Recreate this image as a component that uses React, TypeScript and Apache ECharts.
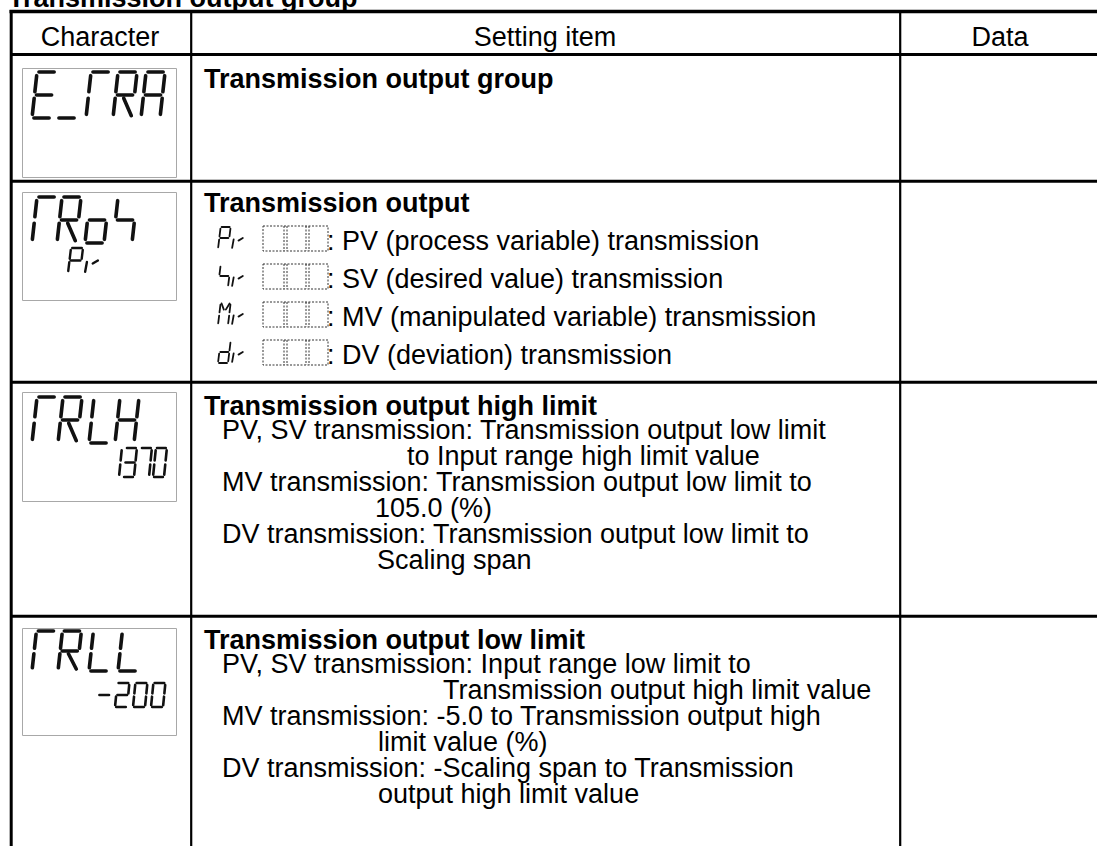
import React, { useEffect, useRef } from "react";
import * as echarts from "echarts";

// ---------- content ----------
const pageTitle = "Transmission output group";
const headers = ["Character", "Setting item", "Data"];
const rowTitles = [
  "Transmission output group",
  "Transmission output",
  "Transmission output high limit",
  "Transmission output low limit",
];
const lcdMain = ["E_TRA", "TRoS", "TRLH", "TRLL"];
const lcdSub = ["", "PV", "1370", "-200"];
const outputCodes = ["PV", "SV", "MV", "dV"];
const outputDescriptions = [
  ": PV (process variable) transmission",
  ": SV (desired value) transmission",
  ": MV (manipulated variable) transmission",
  ": DV (deviation) transmission",
];
const highLimitLines = [
  "PV, SV transmission: Transmission output low limit",
  "to Input range high limit value",
  "MV transmission: Transmission output low limit to",
  "105.0 (%)",
  "DV transmission: Transmission output low limit to",
  "Scaling span",
];
const lowLimitLines = [
  "PV, SV transmission: Input range low limit to",
  "Transmission output high limit value",
  "MV transmission: -5.0 to Transmission output high",
  "limit value (%)",
  "DV transmission: -Scaling span to Transmission",
  "output high limit value",
];

// ---------- layout ----------
const FS = 27;
const FONT = '"Liberation Sans", Arial, Helvetica, sans-serif';
const highLimitX = [222, 407, 222, 375, 222, 377];
const lowLimitX = [222, 443, 222, 378, 222, 378];

type P = [number, number];
const SEG: Record<string, P[]> = {
  a: [[0.1, 0], [0.9, 0]],
  b: [[1, 0.08], [1, 0.43]],
  c: [[1, 0.57], [1, 0.92]],
  d: [[0.1, 1], [0.9, 1]],
  e: [[0, 0.57], [0, 0.92]],
  f: [[0, 0.08], [0, 0.43]],
  g: [[0.1, 0.5], [0.9, 0.5]],
};
const GLYPH: Record<string, P[][]> = {
  E: [SEG.a, SEG.d, SEG.e, SEG.f, SEG.g],
  _: [SEG.d],
  T: [SEG.a, SEG.f, SEG.e],
  R: [SEG.a, SEG.b, SEG.e, SEG.f, SEG.g, [[0.45, 0.57], [0.95, 0.95]]],
  A: [SEG.a, SEG.b, SEG.c, SEG.e, SEG.f, SEG.g],
  o: [SEG.c, SEG.d, SEG.e, SEG.g],
  S: [SEG.f, SEG.g, SEG.c],
  L: [SEG.d, SEG.e, SEG.f],
  H: [SEG.b, SEG.c, SEG.e, SEG.f, SEG.g],
  P: [SEG.a, SEG.b, SEG.e, SEG.f, SEG.g],
  V: [[[0.05, 0.56], [0, 0.95]], [[0.55, 0.62], [0.95, 0.5]]],
  M: [SEG.b, SEG.c, SEG.e, SEG.f, [[0.1, 0.02], [0.4, 0.3]], [[0.9, 0.02], [0.6, 0.3]]],
  d: [SEG.b, SEG.c, SEG.d, SEG.e, SEG.g],
  "1": [SEG.b, SEG.c],
  "3": [SEG.a, SEG.b, SEG.c, SEG.d, SEG.g],
  "7": [SEG.a, SEG.b, SEG.c],
  "0": [SEG.a, SEG.b, SEG.c, SEG.d, SEG.e, SEG.f],
  "2": [SEG.a, SEG.b, SEG.g, SEG.e, SEG.d],
  "-": [SEG.g],
};

function lcd(
  text: string,
  xs: number[] | number,
  y: number,
  w: number,
  h: number,
  pitch: number,
  lw: number,
  slant = 0.11
) {
  const out: any[] = [];
  Array.from(text).forEach((ch, i) => {
    const cx = Array.isArray(xs) ? xs[i] : xs + i * pitch;
    (GLYPH[ch] || []).forEach((stroke) => {
      out.push({
        type: "polyline",
        silent: true,
        shape: {
          points: stroke.map(([u, v]) => [cx + u * w + (1 - v) * slant * h, y + v * h]),
        },
        style: { stroke: "#111", lineWidth: lw, lineCap: "round", lineJoin: "round", fill: "none" },
      });
    });
  });
  return out;
}

function txt(text: string, x: number, baseline: number, bold = false, align = "left") {
  return {
    type: "text",
    silent: true,
    x,
    y: baseline - 0.35 * FS,
    style: {
      text,
      fill: "#000",
      fontSize: FS,
      fontFamily: FONT,
      fontWeight: bold ? "bold" : "normal",
      align,
      verticalAlign: "middle",
      textAlign: align,
      textVerticalAlign: "middle",
    },
  };
}

function line(x1: number, y1: number, x2: number, y2: number, lw: number, dash?: number[], color = "#000") {
  return {
    type: "line",
    silent: true,
    shape: { x1, y1, x2, y2 },
    style: { stroke: color, lineWidth: lw, lineDash: dash || null },
  };
}

function buildGraphic() {
  const g: any[] = [];
  const W = 1097;
  const H = 846;

  // page title (cut at top)
  g.push(txt(pageTitle, 8, 7, true));

  // table grid
  g.push(line(9.5, 11.5, W, 11.5, 3.5));
  g.push(line(11.2, 10, 11.2, H, 3));
  g.push(line(11, 54.5, W, 54.5, 3));
  [181.3, 382.2, 616.2].forEach((y) => g.push(line(11, y, W, y, 3)));
  g.push(line(191.2, 11.5, 191.2, H, 2.2));
  g.push(line(900.2, 11.5, 900.2, H, 2.2));

  // headers
  const headerCenters = [100, 545, 1000];
  headers.forEach((h, i) => g.push(txt(h, headerCenters[i], 46, false, "center")));

  // LCD boxes
  const boxY = [68.5, 192.5, 392.5, 628.5];
  const boxH = [109, 108, 109, 107];
  boxY.forEach((y, i) =>
    g.push({
      type: "rect",
      silent: true,
      shape: { x: 22.5, y, width: 154, height: boxH[i] },
      style: { fill: "none", stroke: "#a8a8a8", lineWidth: 1 },
    })
  );

  // LCD main characters
  g.push(...lcd(lcdMain[0], [32, 57, 86, 113, 141], 72, 19, 46, 27, 3.6));
  g.push(...lcd(lcdMain[1], [32, 57, 85, 113], 197, 19, 46, 27, 3.6));
  g.push(...lcd(lcdMain[2], [32, 58, 89, 115], 397, 19, 46, 27, 3.6));
  g.push(...lcd(lcdMain[3], [32, 58, 89, 118], 631, 19, 40, 27, 3.6));
  // LCD sub values
  g.push(...lcd(lcdSub[1], 68, 248, 12, 25, 17, 2.4, 0.12));
  g.push(...lcd(lcdSub[2], 108, 448, 11, 29, 15, 2.6, 0.1));
  g.push(...lcd(lcdSub[3], 97, 683, 12, 24, 18, 2.6, 0.1));

  // setting item titles
  const titleBase = [88, 212, 415, 649];
  rowTitles.forEach((t, i) => g.push(txt(t, 204, titleBase[i], true)));

  // row 2: output codes list
  const listBase = [250, 288, 326, 364];
  outputCodes.forEach((code, i) => {
    const b = listBase[i];
    g.push(...lcd(code, 218, b - 23, 10, 22, 14, 1.8, 0.12));
    // dotted 3-digit box
    const bx = 263, bw = 65, by = b - 24, bh = 25;
    g.push({
      type: "rect",
      silent: true,
      shape: { x: bx, y: by, width: bw, height: bh },
      style: { fill: "none", stroke: "#333", lineWidth: 1, lineDash: [2, 1.5] },
    });
    [284, 287, 306, 309].forEach((dx) => g.push(line(dx, by, dx, by + bh, 1, [2, 1.5], "#333")));
    g.push(txt(outputDescriptions[i], 327, b));
  });

  // row 3 / row 4 description lines
  const hiBase = [439, 465, 491, 517, 543, 569];
  highLimitLines.forEach((t, i) => g.push(txt(t, highLimitX[i], hiBase[i])));
  const loBase = [673, 699, 725, 751, 777, 803];
  lowLimitLines.forEach((t, i) => g.push(txt(t, lowLimitX[i], loBase[i])));

  return g;
}

export default function App() {
  const ref = useRef<HTMLDivElement>(null);
  useEffect(() => {
    document.body.style.margin = "0";
    if (!ref.current) return;
    const chart = echarts.init(ref.current, undefined, { renderer: "svg" });
    chart.setOption({
      animation: false,
      backgroundColor: "#ffffff",
      graphic: { elements: buildGraphic() },
    });
    return () => chart.dispose();
  }, []);
  return <div ref={ref} style={{ width: 1097, height: 846, background: "#fff" }} />;
}
